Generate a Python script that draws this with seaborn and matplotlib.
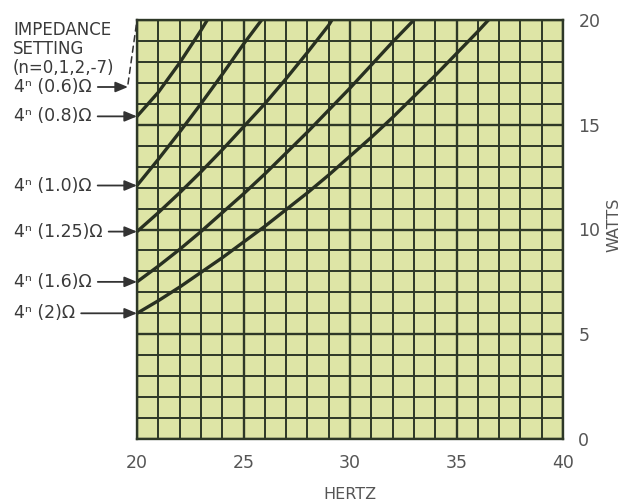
import matplotlib
matplotlib.use("Agg")
import matplotlib.pyplot as plt
from matplotlib.ticker import MultipleLocator
import seaborn as sns
import pandas as pd

# ---- data ----
settings = ["4ⁿ (0.8)Ω", "4ⁿ (1.0)Ω", "4ⁿ (1.25)Ω", "4ⁿ (1.6)Ω", "4ⁿ (2)Ω"]

hz_08 = [20, 21, 22, 23, 23.3]
w_08 = [15.4, 16.55, 17.95, 19.5, 20.0]

hz_10 = [20, 21, 22, 23, 24, 25, 25.85]
w_10 = [12.1, 13.35, 14.65, 16.0, 17.4, 18.85, 20.0]

hz_125 = [20, 21, 22, 23, 24, 25, 26, 27, 28, 29, 29.15]
w_125 = [9.9, 10.8, 11.75, 12.75, 13.8, 14.9, 16.0, 17.2, 18.45, 19.75, 20.0]

hz_16 = [20, 21, 22, 23, 24, 25, 26, 27, 28, 29, 30, 31, 32, 33]
w_16 = [7.5, 8.25, 9.05, 9.9, 10.8, 11.7, 12.65, 13.65, 14.65, 15.7, 16.75, 17.85, 18.95, 20.0]

hz_20 = [20, 21, 22, 23, 24, 25, 26, 27, 28, 29, 30, 31, 32, 33, 34, 35, 36, 36.5]
w_20 = [6.0, 6.6, 7.25, 7.95, 8.65, 9.4, 10.15, 10.95, 11.75, 12.6, 13.5, 14.4, 15.35, 16.35, 17.35, 18.4, 19.45, 20.0]

x_ticks = [20, 25, 30, 35, 40]
y_ticks = [0, 5, 10, 15, 20]
header_lines = ["IMPEDANCE", "SETTING", "(n=0,1,2,-7)"]
top_setting = "4ⁿ (0.6)Ω"

curves = [(hz_08, w_08), (hz_10, w_10), (hz_125, w_125), (hz_16, w_16), (hz_20, w_20)]
frames = []
for name, (hz, w) in zip(settings, curves):
    frames.append(pd.DataFrame({"hertz": hz, "watts": w, "setting": name}))
df = pd.concat(frames, ignore_index=True)

# ---- style ----
sns.set_theme(style="white")
plt.rcParams["font.family"] = ["DejaVu Sans"]

bg = "#dee5a6"
grid_c = "#2e3827"
curve_c = "#283021"
text_c = "#3a3a3a"
tick_c = "#555555"

W, H = 626, 503
fig = plt.figure(figsize=(W / 100, H / 100), dpi=100)
fig.patch.set_facecolor("white")
ax = fig.add_axes([137 / W, 1 - 439 / H, 426 / W, 419 / H])
ax.set_facecolor(bg)

sns.lineplot(data=df, x="hertz", y="watts", hue="setting", hue_order=settings,
             palette=[curve_c] * len(settings), estimator=None, sort=False,
             legend=False, linewidth=2.4, ax=ax)

ax.set_xlim(20, 40)
ax.set_ylim(0, 20)
ax.set_xticks(x_ticks)
ax.set_yticks(y_ticks)
ax.xaxis.set_minor_locator(MultipleLocator(1))
ax.yaxis.set_minor_locator(MultipleLocator(1))
ax.grid(which="major", color=grid_c, linewidth=1.7)
ax.grid(which="minor", color=grid_c, linewidth=1.4)
ax.yaxis.tick_right()
ax.yaxis.set_label_position("right")
ax.tick_params(which="both", length=0, labelsize=12.5, labelcolor=tick_c)
ax.tick_params(axis="x", pad=11)
ax.tick_params(axis="y", pad=11)
for s in ax.spines.values():
    s.set_visible(True)
    s.set_color(grid_c)
    s.set_linewidth(1.7)

ax.set_xlabel("HERTZ", fontsize=11.5, color=tick_c)
ax.xaxis.set_label_coords(0.5, -0.115)
ax.set_ylabel("WATTS", fontsize=11.5, color=tick_c)
ax.yaxis.set_label_coords(1.103, 0.51)

# ---- left annotations ----
for i, line in enumerate(header_lines):
    fig.text(13 / W, 1 - (30 + i * 19) / H, line, fontsize=12, color=text_c,
             ha="left", va="center")

arrow_kw = dict(arrowstyle="-|>,head_length=0.6,head_width=0.25", color="#333333",
                lw=1.3, shrinkA=2, shrinkB=0)
for name, (hz, w) in zip(settings, curves):
    ax.annotate(name, xy=(hz[0], w[0]), xycoords="data",
                xytext=(14, w[0]), textcoords=("figure pixels", "data"),
                ha="left", va="center", fontsize=12.5, color=text_c,
                arrowprops=arrow_kw, annotation_clip=False)

y06 = H - 87
ax.annotate(top_setting, xy=(128, y06), xycoords="figure pixels",
            xytext=(14, y06), textcoords="figure pixels",
            ha="left", va="center", fontsize=12.5, color=text_c,
            arrowprops=arrow_kw, annotation_clip=False)
ax.annotate("", xy=(20, 20), xycoords="data",
            xytext=(128, y06 + 3), textcoords="figure pixels",
            arrowprops=dict(arrowstyle="-", color="#333333", lw=1.1,
                            linestyle=(0, (4, 3)), shrinkA=0, shrinkB=0),
            annotation_clip=False)

fig.savefig("out.png", dpi=100)
